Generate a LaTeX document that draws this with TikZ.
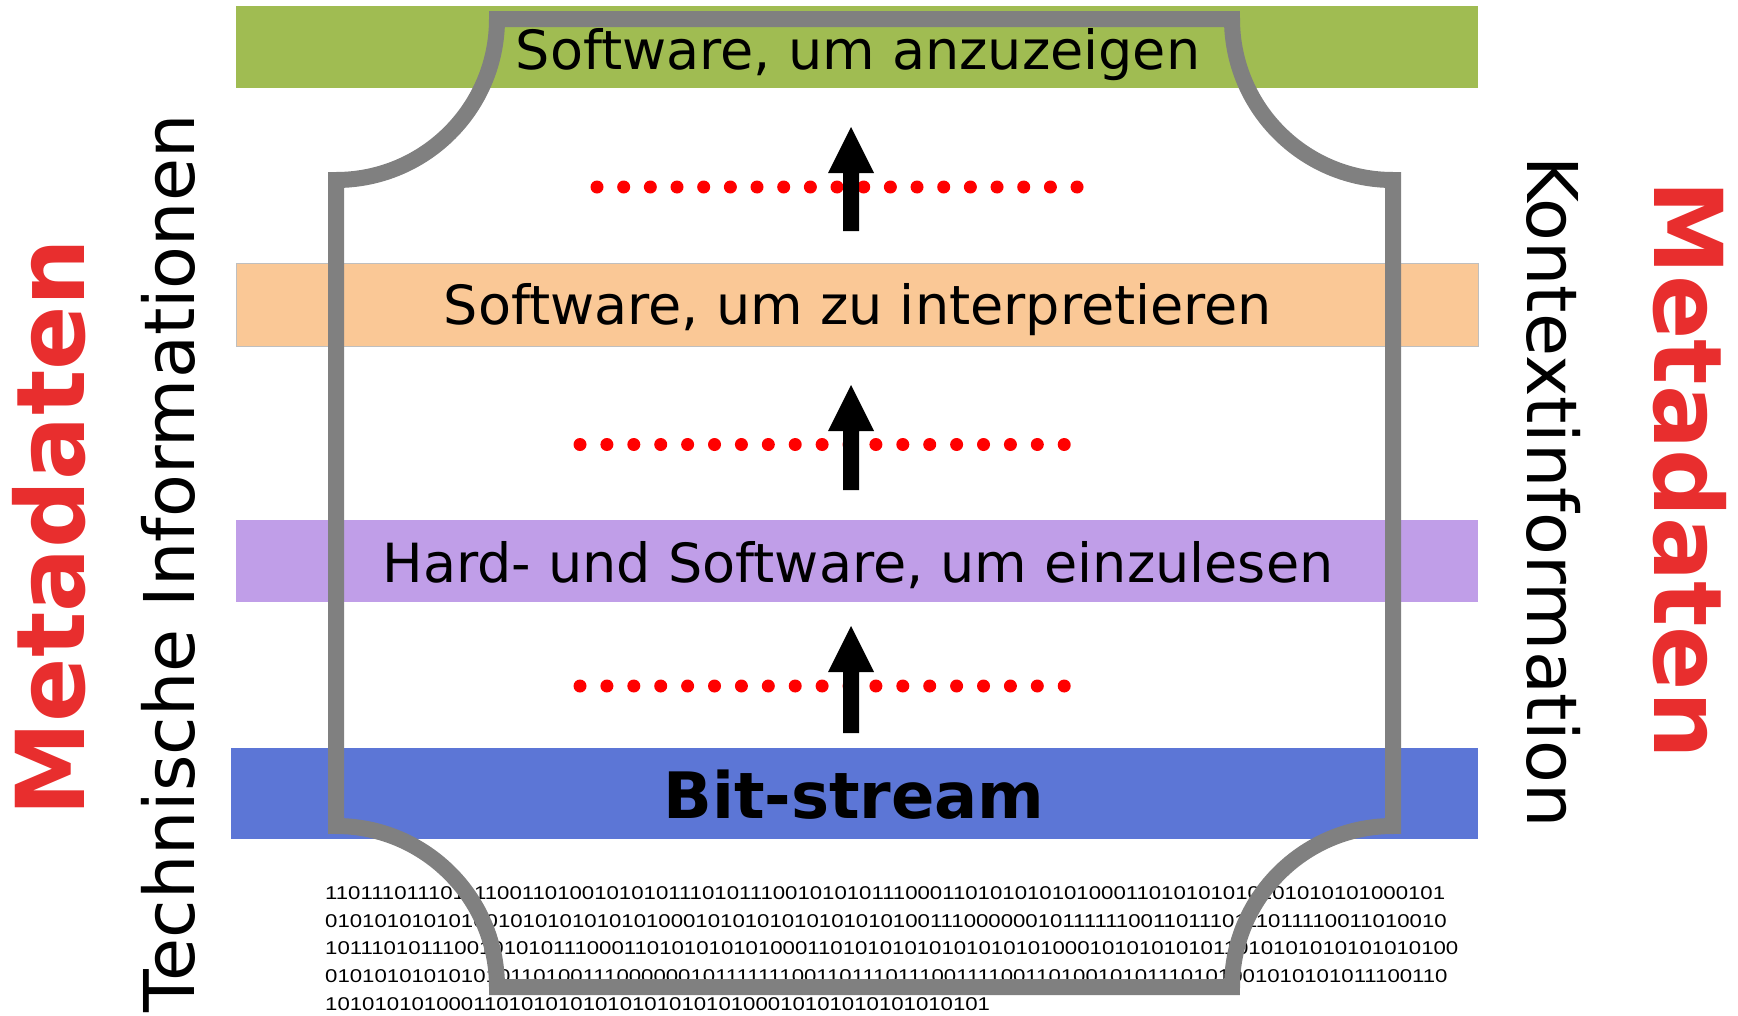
\documentclass[tikz,border=0pt]{standalone}
\usepackage{fontspec}
\setmainfont{DejaVu Sans}
\newfontfamily\binfont{Liberation Sans}
\definecolor{bandgreen}{RGB}{160,188,82}
\definecolor{bandorange}{RGB}{250,200,150}
\definecolor{bandpurple}{RGB}{192,158,232}
\definecolor{bandblue}{RGB}{92,118,214}
\definecolor{framegray}{RGB}{128,128,128}
\definecolor{metared}{RGB}{232,46,46}
\definecolor{dotred}{RGB}{255,0,0}
\tikzset{
  bandlabel/.style={inner sep=0pt, anchor=base, font=\fontsize{54}{60}\selectfont},
  sidelabel/.style={inner sep=0pt, anchor=base, font=\fontsize{70}{80}\selectfont},
  metalabel/.style={inner sep=0pt, anchor=base, text=metared, font=\fontsize{95}{100}\selectfont\bfseries},
  binrow/.style={inner sep=0pt, anchor=base west, font=\binfont\fontsize{18.5}{20}\selectfont},
  framepath/.style={draw=framegray, line width=16pt, miter limit=10, line join=miter},
  reddot/.style={fill=dotred},
  blockarrow/.style={fill=black}
}
\newcommand{\binrowtext}[1]{\scalebox{1.2}[1]{#1}}
\begin{document}
\begin{tikzpicture}[x=1pt,y=-1pt]
\useasboundingbox (0,0) rectangle (1738,1015);
% bands
\fill[bandgreen] (236,6) rectangle (1478,88);
\filldraw[fill=bandorange, draw=black!25, line width=1pt] (236,263) rectangle (1478,346);
\fill[bandpurple] (236,520) rectangle (1478,602);
\fill[bandblue] (231,748) rectangle (1478,839);
% band labels
\node[bandlabel] (tanz) at (858,69) {Software, um anzuzeigen};
\node[bandlabel] (tint) at (858,324) {Software, um zu interpretieren};
\node[bandlabel] (tein) at (858,582) {Hard- und Software, um einzulesen};
\node[bandlabel, font=\fontsize{64}{70}\selectfont\bfseries] (tbit) at (854,818) {Bit-stream};
% binary rows
\node[binrow] (r1) at (325,899) {\binrowtext{110111011101111001101001010101110101110010101011100011010101010100011010101010101010101000101}};
\node[binrow] (r2) at (325,927) {\binrowtext{010101010101001010101010101000101010101010101010011100000010111111001101110111011110011010010}};
\node[binrow] (r3) at (325,954) {\binrowtext{101110101110010101011100011010101010100011010101010101010101000101010101011010101010101010100}};
\node[binrow] (r4) at (325,982) {\binrowtext{0101010101010101101001110000001011111110011011101110011110011010010101110101001010101011100110}};
\node[binrow] (r5) at (325,1010) {\binrowtext{101010101000110101010101010101010100010101010101010101}};
% dotted red lines
\foreach \i in {0,...,18} {
  \fill[reddot] (597+\i*26.67,187) circle (6.5);
  \fill[reddot] (580+\i*26.9,444.5) circle (6.5);
  \fill[reddot] (580+\i*26.9,686) circle (6.5);
}
% arrows
\foreach \ty/\sl in {127/58, 385/59, 626/61} {
  \fill[blockarrow] (851,\ty) -- ++(23,46) -- ++(-15,0) -- ++(0,\sl) -- ++(-16,0) -- ++(0,-\sl) -- ++(-15,0) -- cycle;
}
% frame
\draw[framepath] (336,180) -- (336,826)
  arc[start angle=-90, end angle=0, radius=161] -- (1232,987)
  arc[start angle=180, end angle=270, radius=161] -- (1393,180)
  arc[start angle=90, end angle=180, radius=161] -- (497,19)
  arc[start angle=0, end angle=90, radius=161] -- cycle;
% side labels
\node[metalabel, rotate=90] (mleft) at (84,527.5) {Metadaten};
\node[sidelabel, rotate=90] (tech) at (194,563.5) {Technische Informationen};
\node[sidelabel, rotate=-90] (kont) at (1527,492) {Kontextinformation};
\node[metalabel, rotate=-90] (mright) at (1654,470) {Metadaten};
\end{tikzpicture}
\end{document}
